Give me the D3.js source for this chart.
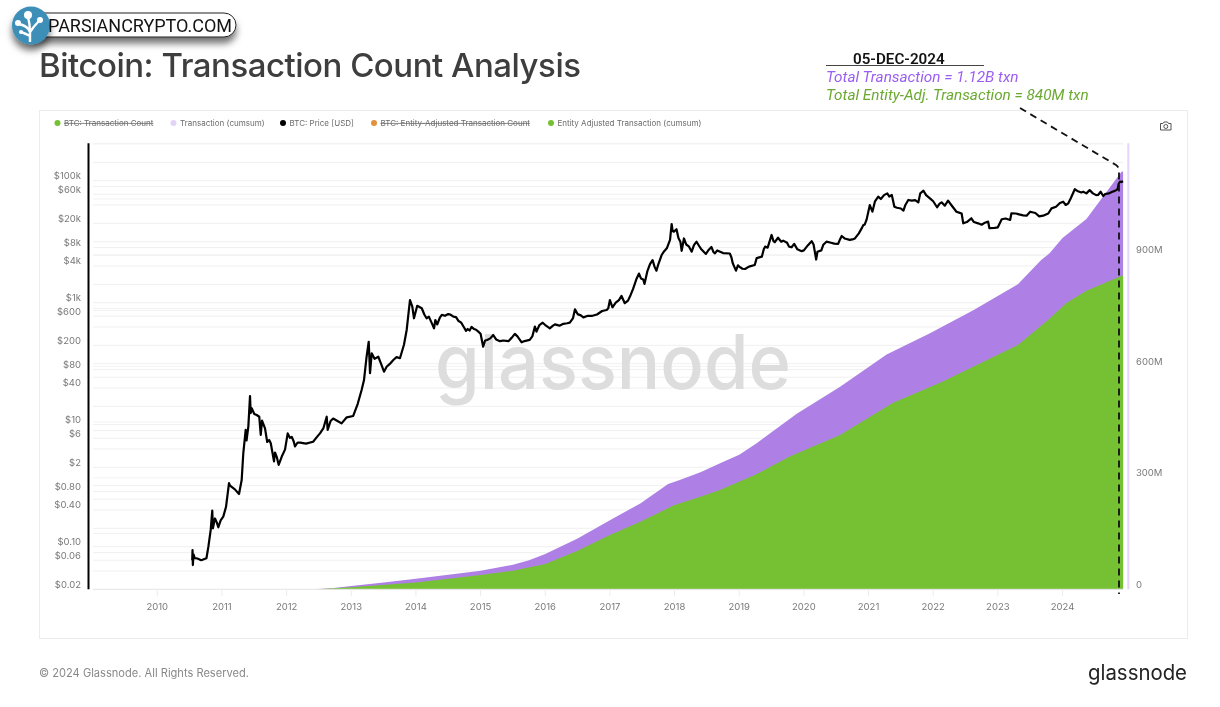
<!DOCTYPE html>
<html><head><meta charset="utf-8">
<script src="https://cdn.jsdelivr.net/npm/d3@7"></script>
<style>html,body{margin:0;padding:0;background:#fff;overflow:hidden}svg{display:block}text{font-family:Inter,sans-serif}.lb{opacity:.99}</style>
</head><body><svg id="c" width="1220" height="707"></svg>
<script>
const yearTicks=[2010,2011,2012,2013,2014,2015,2016,2017,2018,2019,2020,2021,2022,2023,2024];
const priceTickLabels=[100000,60000,20000,8000,4000,1000,600,200,80,40,10,6,2,0.8,0.4,0.1,0.06,0.02];
const priceGridMantissa=[2,4,6,8,10];
const countTicks=[0,300,600,900];
const countGrid=[150,300,450,600,750,900,1050,1200];
const txYears=[2012.41,2012.7,2013,2013.5,2014,2014.5,2015,2015.5,2015.75,2016,2016.5,2017,2017.47,2017.9,2018.08,2018.4,2018.73,2019.0,2019.27,2019.89,2020.56,2021.28,2021.95,2022.62,2023.31,2023.67,2023.8,2024.0,2024.37,2024.91,2024.937];
const txTotal=[0,3,8.9,18,28.5,39,50,66,78,95,137,186,231,283,294,315,341,362,393,472,545,632,689,751,821,886,904,945,996,1123,1125];
const entYears=[2012.45,2013,2014,2015,2015.5,2016,2016.5,2017,2017.47,2018,2018.4,2018.7,2019.24,2019.78,2020.56,2021.38,2022.15,2023.31,2023.78,2024.06,2024.37,2024.91,2024.937];
const entTotal=[0,5.4,18,38.5,50,68,104,146,182,227,249,267,307.5,357,415,502,559,657,725,770,803,843,845];
const price2010to2012=[[2010.54,0.06],[2010.545,0.088],[2010.55,0.05],[2010.56,0.075],[2010.58,0.065],[2010.62,0.064],[2010.68,0.06],[2010.76,0.0645],[2010.79,0.1],[2010.826,0.188],[2010.85,0.39],[2010.86,0.2],[2010.892,0.29],[2010.92,0.25],[2010.943,0.208],[2010.98,0.27],[2011.02,0.31],[2011.063,0.45],[2011.109,1.1],[2011.125,1.0],[2011.2,0.87],[2011.264,0.73],[2011.305,1.24],[2011.33,3.4],[2011.367,8.2],[2011.38,5.5],[2011.408,9.3],[2011.434,29.5],[2011.444,15.5],[2011.46,18.6],[2011.5,15],[2011.537,14.4],[2011.577,13.5],[2011.6,6.8],[2011.62,11.7],[2011.666,8.7],[2011.70,5.2],[2011.73,5.6],[2011.755,4.95],[2011.805,2.5],[2011.82,3.5],[2011.85,2.9],[2011.877,2.2],[2011.925,3.0],[2011.975,3.9],[2012.017,7.2],[2012.05,6.1],[2012.08,6.3],[2012.11,5.3],[2012.13,4.4],[2012.17,5.1],[2012.21,5.07],[2012.3,4.9],[2012.41,5.25],[2012.47,6.3],[2012.516,7.2],[2012.57,8.8],[2012.62,13.5],[2012.635,8.2],[2012.68,11.5],[2012.72,12.6],[2012.78,11.6],[2012.85,10.5],[2012.93,13.2],[2013.03,13.9]];
const price2013to2014=[[2013.1,22],[2013.16,37],[2013.197,54],[2013.237,130],[2013.27,229],[2013.29,70],[2013.316,148],[2013.36,120],[2013.418,130],[2013.46,100],[2013.506,74],[2013.547,89],[2013.6,100],[2013.65,115],[2013.7,128],[2013.753,123],[2013.815,204],[2013.857,357],[2013.908,1107],[2013.944,860],[2013.97,555],[2014.02,890],[2014.09,810],[2014.13,640],[2014.165,555],[2014.2,590],[2014.25,450],[2014.28,380],[2014.30,520],[2014.33,440],[2014.37,570],[2014.4,630],[2014.45,610],[2014.5,650],[2014.53,640],[2014.58,590],[2014.62,580],[2014.66,500],[2014.7,470],[2014.74,400],[2014.775,345],[2014.8,370],[2014.83,350],[2014.86,400],[2014.9,370],[2014.93,360],[2014.965,335],[2015.0,310]];
const price2015to2017=[[2015.04,190],[2015.07,240],[2015.1,245],[2015.15,260],[2015.196,295],[2015.24,250],[2015.3,234],[2015.35,240],[2015.43,234],[2015.48,265],[2015.53,308],[2015.57,280],[2015.635,224],[2015.68,235],[2015.76,245],[2015.8,280],[2015.84,405],[2015.865,335],[2015.91,430],[2015.96,470],[2016.0,430],[2016.04,400],[2016.07,380],[2016.12,420],[2016.15,440],[2016.22,420],[2016.28,450],[2016.34,460],[2016.38,470],[2016.43,560],[2016.46,780],[2016.5,650],[2016.55,620],[2016.59,575],[2016.66,610],[2016.73,610],[2016.8,640],[2016.88,730],[2016.95,760],[2016.975,810],[2017.0,1107],[2017.04,840],[2017.09,1000],[2017.14,1100],[2017.18,1290],[2017.23,980],[2017.28,1080],[2017.31,1260],[2017.36,1700],[2017.414,2500],[2017.45,3000],[2017.48,2500],[2017.516,2400],[2017.535,2030],[2017.58,3300],[2017.62,4300],[2017.66,5000],[2017.69,3900],[2017.72,3350],[2017.75,4300],[2017.8,6050],[2017.84,7000],[2017.88,7800],[2017.93,10700],[2017.955,19500],[2017.97,15000],[2017.99,14600]];
const price2018to2019=[[2018.03,16000],[2018.06,11500],[2018.09,10000],[2018.11,7100],[2018.145,11300],[2018.18,9000],[2018.22,8400],[2018.265,6860],[2018.3,8800],[2018.34,10000],[2018.38,8500],[2018.41,7600],[2018.485,6300],[2018.53,7400],[2018.57,8200],[2018.6,6800],[2018.625,6450],[2018.66,7200],[2018.75,6500],[2018.855,6400],[2018.88,5500],[2018.90,4430],[2018.95,3350],[2018.98,4100],[2019.0,3900],[2019.05,3600],[2019.09,3570],[2019.15,3900],[2019.24,4150],[2019.27,5370],[2019.35,5680],[2019.38,7500],[2019.40,8300],[2019.44,8000],[2019.5,12900],[2019.53,10200],[2019.55,9800],[2019.6,11600],[2019.65,10000],[2019.68,10400],[2019.74,9600],[2019.77,8300],[2019.81,8100],[2019.85,9200],[2019.9,7500],[2019.965,7000]];
const price2020to2021=[[2020.0,7200],[2020.06,8700],[2020.12,10200],[2020.15,9000],[2020.19,5100],[2020.21,6860],[2020.27,7200],[2020.3,8900],[2020.35,10000],[2020.42,9600],[2020.47,9300],[2020.53,9200],[2020.56,11000],[2020.585,12400],[2020.63,11300],[2020.71,10700],[2020.75,10900],[2020.79,11300],[2020.85,13700],[2020.9,17000],[2020.92,18800],[2020.94,19000],[2020.97,23000],[2021.02,39800],[2021.06,31000],[2021.1,46000],[2021.15,54700],[2021.19,50000],[2021.24,58000],[2021.29,62000],[2021.32,55000],[2021.36,58300],[2021.4,37500],[2021.44,36000],[2021.5,35000],[2021.54,32300],[2021.57,40000],[2021.615,48300],[2021.67,47000],[2021.72,48000],[2021.77,44000],[2021.8,62000],[2021.85,68500],[2021.89,58000],[2021.95,51300],[2022.0,46000]];
const price2022to2024=[[2022.06,36700],[2022.1,42000],[2022.13,44200],[2022.18,39000],[2022.23,47000],[2022.28,40000],[2022.36,31000],[2022.4,30000],[2022.44,29000],[2022.465,20000],[2022.52,21000],[2022.59,24200],[2022.63,21000],[2022.695,20000],[2022.75,19000],[2022.8,20500],[2022.85,21300],[2022.87,16600],[2022.95,16800],[2023.0,17200],[2023.06,23300],[2023.12,24000],[2023.19,22700],[2023.21,29200],[2023.28,29000],[2023.33,28000],[2023.39,27000],[2023.445,26700],[2023.5,31000],[2023.58,29500],[2023.64,26000],[2023.7,26700],[2023.78,29000],[2023.83,35200],[2023.9,37500],[2023.96,43000],[2024.01,45300],[2024.05,40000],[2024.09,42600],[2024.13,52000],[2024.19,72400],[2024.24,67000],[2024.29,64000],[2024.32,66000],[2024.37,62000],[2024.42,70000],[2024.47,62000],[2024.52,58000],[2024.55,58300],[2024.59,66000],[2024.63,56000],[2024.66,60500],[2024.72,62000],[2024.77,66000],[2024.81,68000],[2024.85,72000],[2024.87,90000],[2024.89,97000],[2024.91,95000],[2024.937,98000]];
const priceSeries=[...price2010to2012,...price2013to2014,...price2015to2017,...price2018to2019,...price2020to2021,...price2022to2024];

const svg=d3.select('#c');
const x=d3.scaleLinear().domain([2010,2024]).range([157.3,1062.5]);
const yPrice=d3.scaleLog().domain([0.02,100000]).range([589.3,180.7]);
const yCount=d3.scaleLinear().domain([0,1200]).range([589.3,143.3]);
const L=93,R=1123;
const fmtPrice=v=>v>=1000?'$'+(v/1000)+'k':v>=1?'$'+v:'$'+v.toFixed(2);

svg.append('rect').attr('x',39.5).attr('y',110.5).attr('width',1148).attr('height',528).attr('fill','#fff').attr('stroke','#ececec');
svg.append('text').attr('class','lb').attr('x',39).attr('y',77).attr('font-size',33).attr('font-weight',450).attr('fill','#3c3c3c').attr('textLength',542).text('Bitcoin: Transaction Count Analysis');

const priceGrid=[];
[-2,-1,0,1,2,3,4,5].forEach(e=>priceGridMantissa.forEach(m=>{const v=m*Math.pow(10,e);if(v>=0.02&&v<=400000.1)priceGrid.push(v)}));
svg.append('g').selectAll('line').data(priceGrid).join('line').attr('x1',L).attr('x2',R).attr('y1',d=>yPrice(d)).attr('y2',d=>yPrice(d)).attr('stroke','#f0f0f0');
svg.append('g').selectAll('line').data(countGrid).join('line').attr('x1',L).attr('x2',R).attr('y1',d=>yCount(d)).attr('y2',d=>yCount(d)).attr('stroke','#f2f2f2');

svg.append('text').attr('x',435).attr('y',389).attr('font-size',76).attr('fill','#dddddd').attr('font-weight',500).attr('textLength',356).attr('lengthAdjust','spacingAndGlyphs').text('glassnode');

const areaFor=(xs,vs)=>d3.area().x((d,i)=>x(xs[i])).y0(yCount(0)).y1((d,i)=>yCount(vs[i]))(vs);
svg.append('path').attr('d',areaFor(txYears,txTotal)).attr('fill','#ae80e6');
svg.append('path').attr('d',areaFor(entYears,entTotal)).attr('fill','#76c034');

const ax=svg.append('g').attr('transform',`translate(0,${yCount(0)})`);
ax.append('line').attr('x1',L).attr('x2',R).attr('stroke','#e8e8e8');
ax.selectAll('line.t').data(yearTicks).join('line').attr('class','t').attr('x1',d=>x(d)).attr('x2',d=>x(d)).attr('y2',7).attr('stroke','#ececec');
ax.selectAll('text').data(yearTicks).join('text').attr('class','lb').attr('x',d=>x(d)).attr('y',20.5).attr('text-anchor','middle').attr('font-size',9.5).attr('fill','#777').text(d=>d);
svg.append('line').attr('x1',88.5).attr('x2',88.5).attr('y1',143.3).attr('y2',589.3).attr('stroke','#000').attr('stroke-width',2);
svg.append('line').attr('x1',1128.3).attr('x2',1128.3).attr('y1',143.3).attr('y2',589.3).attr('stroke','#e4d6f8').attr('stroke-width',2);
svg.append('g').selectAll('text').data(priceTickLabels).join('text').attr('class','lb').attr('x',81).attr('y',d=>yPrice(d)-1.5).attr('text-anchor','end').attr('font-size',9.5).attr('fill','#777').text(fmtPrice);
svg.append('g').selectAll('text').data(countTicks).join('text').attr('class','lb').attr('x',1136).attr('y',d=>yCount(d)-1.5).attr('font-size',9.5).attr('fill','#777').text(d=>d?d+'M':'0');

svg.append('path').attr('d',d3.line().x(d=>x(d[0])).y(d=>yPrice(d[1]))(priceSeries)).attr('fill','none').attr('stroke','#000').attr('stroke-width',2.2).attr('stroke-linejoin','round');

svg.append('path').attr('d','M1020 108L1116 165Q1119 167 1119 171L1119 594').attr('fill','none').attr('stroke','#111').attr('stroke-width',1.8).attr('stroke-dasharray','7 5');
svg.append('line').attr('x1',826).attr('x2',984).attr('y1',65.5).attr('y2',65.5).attr('stroke','#444').attr('stroke-width',1);
const annFont=s=>s.style('font-family','Roboto').attr('class','lb');
svg.append('text').call(annFont).attr('x',853).attr('y',64).attr('font-size',15.2).attr('font-weight',600).attr('fill','#111').text('05-DEC-2024');
svg.append('text').call(annFont).attr('x',826).attr('y',82).attr('font-size',15.3).attr('font-style','italic').attr('fill','#9a5cf2').text('Total Transaction = 1.12B txn');
svg.append('text').call(annFont).attr('x',826).attr('y',100).attr('font-size',15.3).attr('font-style','italic').attr('fill','#6aa82e').text('Total Entity-Adj. Transaction = 840M txn');

const legendLabels=['BTC: Transaction Count','Transaction (cumsum)','BTC: Price [USD]','BTC: Entity-Adjusted Transaction Count','Entity Adjusted Transaction (cumsum)'];
const legendColors=['#76c034','#e2d4f8','#000','#e2913c','#76c034'];
const legendDotX=[57.5,173.5,283,374,551];
const legendStruck=[true,false,false,true,false];
const lg=svg.append('g').selectAll('g').data(legendLabels).join('g');
lg.append('circle').attr('cx',(d,i)=>legendDotX[i]).attr('cy',123).attr('r',3).attr('fill',(d,i)=>legendColors[i]);
lg.append('text').attr('class','lb').attr('x',(d,i)=>legendDotX[i]+6.5).attr('y',126).attr('font-size',8).attr('fill','#6a6a6a').attr('text-decoration',(d,i)=>legendStruck[i]?'line-through':null).text(d=>d);

const cam=svg.append('g').attr('transform','translate(1160,121)').attr('fill','none').attr('stroke','#555').attr('stroke-width',1);
cam.append('path').attr('d','M0.5 2.5H3L4 1H7.5L8.5 2.5H11V9H0.5Z');
cam.append('circle').attr('cx',5.8).attr('cy',5.5).attr('r',2);

svg.append('text').attr('class','lb').attr('x',39).attr('y',676.5).attr('font-size',11.1).attr('fill','#888').text('© 2024 Glassnode. All Rights Reserved.');
svg.append('text').attr('class','lb').attr('x',1088).attr('y',680).attr('font-size',21).attr('fill','#222').attr('font-weight',400).attr('textLength',99).attr('lengthAdjust','spacingAndGlyphs').text('glassnode');

const defs=svg.append('defs');
const f=defs.append('filter').attr('id','sh').attr('x','-20%').attr('y','-40%').attr('width','140%').attr('height','220%');
f.append('feDropShadow').attr('dx',0).attr('dy',6).attr('stdDeviation',3.5).attr('flood-color','#000').attr('flood-opacity',0.55);
const b=svg.append('g');
b.append('rect').attr('x',24).attr('y',13).attr('width',212).attr('height',24).attr('rx',12).attr('fill','#fff').attr('stroke','#222').attr('filter','url(#sh)');
b.append('circle').attr('cx',31).attr('cy',25.5).attr('r',19).attr('fill','#3d8fb8').attr('filter','url(#sh)');
b.append('text').attr('class','lb').attr('x',48).attr('y',32).attr('font-size',18).attr('fill','#111').attr('font-weight',400).style('font-family','Roboto').attr('textLength',184).text('PARSIANCRYPTO.COM');
const t=b.append('g').attr('stroke','#fff').attr('stroke-width',2.4).attr('fill','none');
t.append('path').attr('d','M30 42V32M30 32Q28 26 19 24M30 32Q30 24 28 17M30 32Q34 26 39 21M30 36Q24 33 21 32');
b.append('g').attr('fill','#fff').selectAll('circle').data([[28,15,4],[40,20,3],[18,23,3],[21,32,2]]).join('circle').attr('cx',d=>d[0]).attr('cy',d=>d[1]).attr('r',d=>d[2]);
</script></body></html>
